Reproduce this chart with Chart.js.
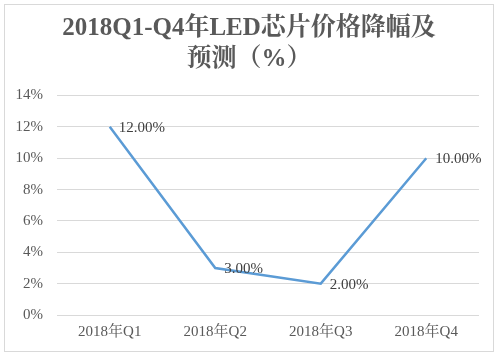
<!DOCTYPE html>
<html><head><meta charset="utf-8">
<script src="https://cdn.jsdelivr.net/npm/chart.js@4/dist/chart.umd.min.js"></script>
<style>html,body{margin:0;padding:0;background:#fff}#wrap{position:absolute;left:0;top:0;width:498px;height:357px}</style>
</head><body><div id="wrap"><canvas id="c" width="498" height="357"></canvas></div>
<script>
const titleLines = ['2018Q1-Q4年LED芯片价格降幅及', '预测（%）'];
const categories = ['2018年Q1', '2018年Q2', '2018年Q3', '2018年Q4'];
const values = [12, 3, 2, 10];
const yTicks = [0, 2, 4, 6, 8, 10, 12, 14];
const FONT = "'Liberation Serif', 'Noto Serif CJK SC', 'Noto Sans CJK SC', serif";
const GREY = '#595959';

const borderPlugin = {
  id: 'border',
  afterLayout(chart) {
    const t = chart.titleBlock;
    if (t) { t.left = 19; t.right = 479; t.width = 460; }
  },
  beforeDraw(chart) {
    const ctx = chart.ctx;
    ctx.save();
    ctx.fillStyle = '#fff';
    ctx.fillRect(0, 0, chart.width, chart.height);
    ctx.strokeStyle = '#D9D9D9';
    ctx.lineWidth = 1;
    ctx.strokeRect(4.5, 4.5, 489, 347);
    ctx.restore();
  }
};
const labelPlugin = {
  id: 'labels',
  afterDatasetsDraw(chart) {
    const ctx = chart.ctx;
    const meta = chart.getDatasetMeta(0);
    ctx.save();
    ctx.font = '15px ' + FONT;
    ctx.fillStyle = '#404040';
    ctx.textAlign = 'left';
    ctx.textBaseline = 'middle';
    meta.data.forEach((pt, i) => {
      ctx.fillText(values[i].toFixed(2) + '%', pt.x + 9, pt.y + 1);
    });
    ctx.restore();
  }
};

new Chart(document.getElementById('c'), {
  type: 'line',
  data: {
    labels: categories,
    datasets: [{
      data: values,
      borderColor: '#5B9BD5',
      borderWidth: 2.5,
      pointRadius: 0,
      tension: 0,
      fill: false
    }]
  },
  options: {
    responsive: false,
    animation: false,
    events: [],
    layout: { padding: { left: 4, right: 19, top: 0, bottom: 16 } },
    plugins: {
      legend: { display: false },
      tooltip: { enabled: false },
      title: {
        display: true,
        text: titleLines,
        color: GREY,
        font: { family: FONT, size: 25, weight: 'bold', lineHeight: 1.25 },
        padding: { top: 13, bottom: 20 }
      }
    },
    scales: {
      x: {
        offset: true,
        grid: { display: false, drawTicks: false },
        border: { display: false },
        ticks: { color: GREY, font: { family: FONT, size: 15 }, padding: 8, maxRotation: 0 },
        afterFit(s) { s.height = 26; }
      },
      y: {
        min: 0, max: 14,
        afterBuildTicks(s) { s.ticks = yTicks.map(v => ({ value: v })); },
        grid: { color: '#D9D9D9', drawTicks: false },
        border: { display: false },
        ticks: { color: GREY, font: { family: FONT, size: 15 }, padding: 14, callback: v => v + '%' },
        afterFit(s) { s.width = 53; }
      }
    }
  },
  plugins: [borderPlugin, labelPlugin]
});
</script></body></html>
